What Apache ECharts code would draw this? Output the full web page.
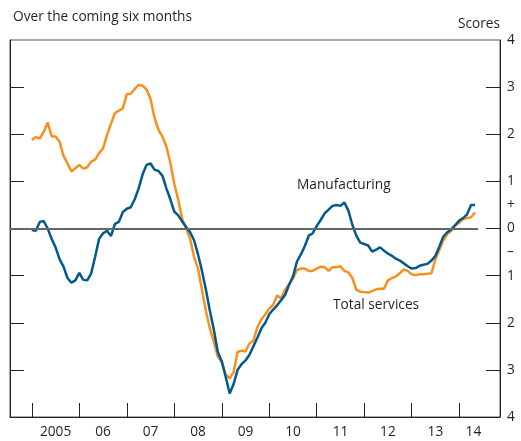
<!DOCTYPE html>
<html>
<head>
<meta charset="utf-8">
<script src="https://cdn.jsdelivr.net/npm/echarts@6/dist/echarts.min.js"></script>
<style>
  html, body { margin: 0; padding: 0; background: #fff; }
  #main { width: 521px; height: 441px; }
</style>
</head>
<body>
<div id="main"></div>
<script>
// monthly survey scores, Jan 2005 to May 2014
var startYear = 2005;
var manufacturing = [
  -0.03, -0.05, 0.14, 0.16, 0.0, -0.22, -0.40, -0.65, -0.81, -1.05, -1.15, -1.10,
  -0.94, -1.09, -1.10, -0.95, -0.60, -0.22, -0.10, -0.05, -0.16, 0.10, 0.14, 0.35,
  0.42, 0.45, 0.62, 0.85, 1.15, 1.35, 1.38, 1.25, 1.22, 1.12, 0.85, 0.62,
  0.36, 0.28, 0.15, 0.03, -0.08, -0.25, -0.55, -0.90, -1.30, -1.75, -2.15, -2.62,
  -2.82, -3.15, -3.50, -3.30, -3.00, -2.88, -2.80, -2.68, -2.50, -2.32, -2.12, -2.00,
  -1.82, -1.72, -1.63, -1.52, -1.41, -1.20, -1.02, -0.70, -0.55, -0.37, -0.15, -0.10,
  0.05, 0.18, 0.32, 0.40, 0.48, 0.50, 0.48, 0.55, 0.38, 0.08, -0.15, -0.30,
  -0.33, -0.36, -0.49, -0.45, -0.40, -0.47, -0.53, -0.58, -0.64, -0.68, -0.74, -0.80,
  -0.85, -0.84, -0.79, -0.77, -0.75, -0.68, -0.58, -0.38, -0.17, -0.08, -0.02, 0.07,
  0.17, 0.22, 0.30, 0.50, 0.50
];
var totalServices = [
  1.88, 1.94, 1.91, 2.05, 2.25, 1.96, 1.95, 1.84, 1.54, 1.38, 1.21, 1.28,
  1.35, 1.27, 1.30, 1.42, 1.46, 1.60, 1.70, 1.98, 2.22, 2.45, 2.50, 2.55,
  2.85, 2.86, 2.96, 3.05, 3.03, 2.95, 2.75, 2.35, 2.10, 1.95, 1.74, 1.40,
  0.95, 0.61, 0.20, 0.0, -0.22, -0.60, -0.85, -1.30, -1.75, -2.12, -2.40, -2.72,
  -2.83, -3.10, -3.18, -3.05, -2.62, -2.59, -2.61, -2.44, -2.38, -2.10, -1.93, -1.82,
  -1.70, -1.62, -1.42, -1.48, -1.30, -1.18, -1.06, -0.88, -0.85, -0.85, -0.90, -0.90,
  -0.85, -0.81, -0.82, -0.90, -0.82, -0.82, -0.80, -0.90, -0.93, -1.05, -1.30, -1.34,
  -1.35, -1.36, -1.33, -1.29, -1.28, -1.28, -1.10, -1.05, -1.02, -0.95, -0.87, -0.90,
  -0.97, -0.99, -0.97, -0.97, -0.96, -0.95, -0.65, -0.45, -0.25, -0.12, -0.05, 0.07,
  0.12, 0.20, 0.22, 0.24, 0.34
];
var yearTicks = [2005, 2006, 2007, 2008, 2009, 2010, 2011, 2012, 2013, 2014];
var yearLabels = ['2005', '06', '07', '08', '09', '10', '11', '12', '13', '14'];
var yearLabelPos = [2005.5, 2006.5, 2007.5, 2008.5, 2009.5, 2010.5, 2011.5, 2012.5, 2013.5, 2014.3];
var scoreTicks = [-3, -2, -1, 0, 1, 2, 3];
var scoreLabels = [-4, -3, -2, -1, -0.5, 0, 0.5, 1, 2, 3, 4];

function toPairs(arr) {
  return arr.map(function (v, i) { return [startYear + i / 12, v]; });
}

var font = '"Open Sans", "Noto Sans", sans-serif';
var txt = '#231f20';
var fs = 13.7;

var chart = echarts.init(document.getElementById('main'));
chart.setOption({
  animation: false,
  textStyle: { fontFamily: font },
  grid: { left: 10, right: 21, top: 40, bottom: 24, show: true, borderColor: '#555', borderWidth: 1 },
  title: {
    text: 'Over the coming six months', left: 8, top: 5,
    textStyle: { fontSize: fs, fontWeight: 'normal', color: txt, fontFamily: font }
  },
  graphic: [
    { type: 'text', right: 21, top: 17, style: { text: 'Scores', fontSize: fs, fill: txt, fontFamily: font } },
    { type: 'text', left: 297, top: 178, style: { text: 'Manufacturing', fontSize: fs, fill: txt, fontFamily: font } },
    { type: 'text', left: 333, top: 298, style: { text: 'Total services', fontSize: fs, fill: txt, fontFamily: font } }
  ],
  xAxis: {
    type: 'value', min: 2004.54, max: 2014.86,
    axisLine: { onZero: false, lineStyle: { color: '#222', width: 1 } },
    splitLine: { show: false },
    axisTick: { inside: true, length: 14, customValues: yearTicks, lineStyle: { color: '#222' } },
    axisLabel: {
      customValues: yearLabelPos, margin: 8, fontSize: fs, color: txt,
      formatter: function (v) {
        var i = yearLabelPos.indexOf(v);
        return i >= 0 ? yearLabels[i] : '';
      }
    }
  },
  yAxis: [
    {
      type: 'value', position: 'left', min: -4, max: 4, interval: 1,
      axisLine: { show: true, lineStyle: { color: '#222' } },
      splitLine: { show: false },
      axisTick: { inside: true, length: 14, customValues: scoreTicks, lineStyle: { color: '#222' } },
      axisLabel: { show: false }
    },
    {
      type: 'value', position: 'right', min: -4, max: 4, interval: 1,
      axisLine: { show: true, lineStyle: { color: '#222' } },
      splitLine: { show: false },
      axisTick: { inside: true, length: 14, customValues: scoreTicks, lineStyle: { color: '#222' } },
      axisLabel: {
        customValues: scoreLabels, margin: 7, fontSize: fs, color: txt,
        formatter: function (v) {
          if (v === 0.5) return '+';
          if (v === -0.5) return '\u2013';
          return String(Math.abs(v));
        }
      }
    }
  ],
  series: [
    {
      name: 'Total services', type: 'line', data: toPairs(totalServices),
      showSymbol: false, lineStyle: { color: '#f7901e', width: 2.5 },
      markLine: {
        silent: true, symbol: 'none', label: { show: false },
        lineStyle: { color: '#666', width: 2, type: 'solid' },
        data: [[{ coord: [2004.54, 0] }, { coord: [2014.4, 0] }]]
      },
      z: 3
    },
    {
      name: 'Manufacturing', type: 'line', data: toPairs(manufacturing),
      showSymbol: false, lineStyle: { color: '#005a8c', width: 2.5 },
      z: 4
    }
  ]
});
</script>
</body>
</html>
